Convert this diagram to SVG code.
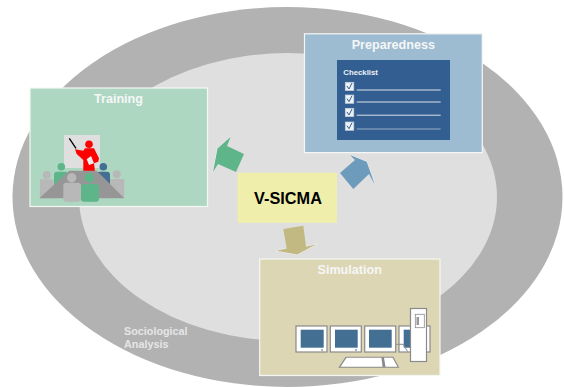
<svg xmlns="http://www.w3.org/2000/svg" width="564" height="387" viewBox="0 0 564 387">
<style>
.panel{stroke:#f4f8f4;stroke-width:1.2}
.title{font:bold 12.6px "Liberation Sans",Arial,sans-serif;fill:#f6f6f6;text-anchor:middle}
.edge{fill:none;stroke:#fff;stroke-width:.6}
.mon{fill:#fff;stroke:#8a8a8a;stroke-width:1.2}
.scr{fill:#436f92}
.line{stroke:#f2f2f2;stroke-width:.9}
.box{fill:#eef2f6;stroke:#c4cfdc;stroke-width:.7}
.tick{fill:none;stroke:#335e91;stroke-width:1}
.gp{fill:#b8b8b8}.gn{fill:#5fb58a}.bl{fill:#436f92}
.lbl{font-family:"Liberation Sans",Arial,sans-serif;font-size:10.8px;font-weight:bold;fill:#e6e6e6}
</style>
<rect width="564" height="387" fill="#fff"/>
<g id="sociological-analysis">
<ellipse cx="287.500" cy="197" rx="275" ry="190" fill="#b2b2b2"/>
<ellipse cx="288" cy="197" rx="209" ry="144" fill="#dfdfdf"/>
<text class="lbl" x="124" y="335">Sociological</text>
<text class="lbl" x="124" y="348">Analysis</text>
</g>
<g id="connectors">
<path class="edge" d="M230.700 136.700L217.500 148.500L213 172"/>
<path fill="#5fb58a" d="M230.700 136.700L217.500 148.500L213 172L218 164L236 172L244 154L227 146Z"/>
<path class="edge" d="M350 155L366.700 161.700L375 185"/>
<path fill="#6c9bbb" d="M340 173L355 160L350 155L366.700 161.700L375 185L369 174L353.300 189Z"/>
<path class="edge" d="M306 246.700L316.700 244L297.300 254.500L276.200 250.700L286.700 248.500"/>
<path fill="#c1b981" d="M283.300 229L303.300 225.700L306 246.700L316.700 244L297.300 254.500L276.200 250.700L286.700 248.500Z"/>
</g>
<g id="training">
<rect class="panel" x="30" y="88" width="177.500" height="118.500" fill="#aed7c2"/>
<text class="title" x="118.500" y="103">Training</text>
<rect x="64" y="135" width="36" height="33" fill="#dfdfdf"/>
<path d="M69.300 138.300L76 148.300" stroke="#000" stroke-width="1.3"/>
<circle cx="89" cy="144.300" r="3.800" fill="#f00"/>
<path d="M75 149.300L83.300 150.700L85 148.300H94L99 158.300L98.300 161.700L94 163.300L95 171.700H83.300V160L76.700 154Z" fill="#f00"/>
<path d="M86.700 159.300L91 156L94 163.300L89 165Z" fill="#eee"/>
<circle class="gp" cx="46.700" cy="175" r="4"/>
<rect class="gp" x="40" y="179.300" width="13.500" height="19"/>
<circle class="gp" cx="116.700" cy="174.300" r="4"/>
<rect class="gp" x="110" y="179" width="14.300" height="19"/>
<circle class="gn" cx="61.300" cy="166.700" r="3.800"/>
<rect class="gn" x="54" y="171.700" width="14" height="18" rx="3"/>
<circle class="bl" cx="103.300" cy="166.700" r="3.800"/>
<rect class="bl" x="96.700" y="171.700" width="13.300" height="14" rx="3"/>
<path d="M39.300 198.300L69.300 170.700H96.700L124.300 198.300Z" fill="#969696"/>
<circle class="gp" cx="71.700" cy="177.700" r="4.700"/>
<rect class="gp" x="63.300" y="182.700" width="17.700" height="19" rx="3"/>
<circle class="gn" cx="89.300" cy="177.700" r="4.700"/>
<rect class="gn" x="81" y="184" width="18" height="17.700" rx="3"/>
</g>
<g id="preparedness">
<rect class="panel" x="304.500" y="33.800" width="177.800" height="118.800" fill="#9dbcd1"/>
<text class="title" x="393.300" y="49">Preparedness</text>
<rect x="337" y="60" width="113" height="80" fill="#335e91"/>
<text x="343.300" y="75" font-family="Liberation Sans,Arial,sans-serif" font-size="7.800" font-weight="bold" fill="#eef2f6">Checklist</text>
<rect class="box" x="345.300" y="82.300" width="8.500" height="8.300"/><path class="tick" d="M347 86L349 89L352 83"/><path class="line" d="M356.700 90H440.700"/>
<rect class="box" x="345.300" y="95" width="8.500" height="8.300"/><path class="tick" d="M347 98.700L349 101.700L352 95.700"/><path class="line" d="M356.700 102H440.700"/>
<rect class="box" x="345.300" y="108.300" width="8.500" height="8.300"/><path class="tick" d="M347 112L349 115L352 109"/><path class="line" d="M356.700 115.200H440.700"/>
<rect class="box" x="345.300" y="122" width="8.500" height="8.300"/><path class="tick" d="M347 125.700L349 128.700L352 122.700"/><path class="line" d="M356.700 129H440.700" stroke-opacity=".6"/>
</g>
<g id="v-sicma">
<rect x="237.700" y="172.700" width="99.300" height="50" fill="#efefab"/>
<text x="288" y="204" font-family="Liberation Sans,Arial,sans-serif" font-size="16.300" font-weight="bold" fill="#000" text-anchor="middle">V-SICMA</text>
</g>
<g id="simulation">
<rect class="panel" x="259.700" y="259" width="180.300" height="116.500" fill="#dcd6b4"/>
<text class="title" x="349.700" y="274">Simulation</text>
<rect class="mon" x="296" y="326" width="31" height="26"/><rect class="scr" x="300.700" y="329.700" width="23" height="18"/><rect x="321" y="349.500" width="2" height="1" fill="#666"/>
<rect class="mon" x="330.300" y="326" width="31" height="26"/><rect class="scr" x="335" y="329.700" width="22.700" height="18"/><rect x="355" y="349.500" width="2" height="1" fill="#666"/>
<rect class="mon" x="364.700" y="326" width="31" height="26"/><rect class="scr" x="369" y="329.700" width="22.700" height="18"/>
<rect class="mon" x="399" y="326" width="31" height="26"/><rect class="scr" x="403.700" y="329.700" width="10" height="18"/>
<path d="M396 344.300H403.300L407.700 351.700" fill="none" stroke="#8a8a8a"/>
<rect class="mon" x="410.500" y="308.500" width="16" height="53"/>
<rect x="415.300" y="314.300" width="9" height="13.400" fill="#fff" stroke="#8a8a8a" stroke-width=".8"/><rect x="416.500" y="317" width="2.500" height="8" fill="#999"/>
<path d="M338.300 367.700L345.700 356.700H393.300L399.300 367.700Z" fill="#8a8a8a"/>
<path d="M340.500 366.700L346.500 357.700H381.500L382.500 366.700ZM384 357.700H392.500L397.500 366.700H385.500Z" fill="#fff"/>
</g>
</svg>
